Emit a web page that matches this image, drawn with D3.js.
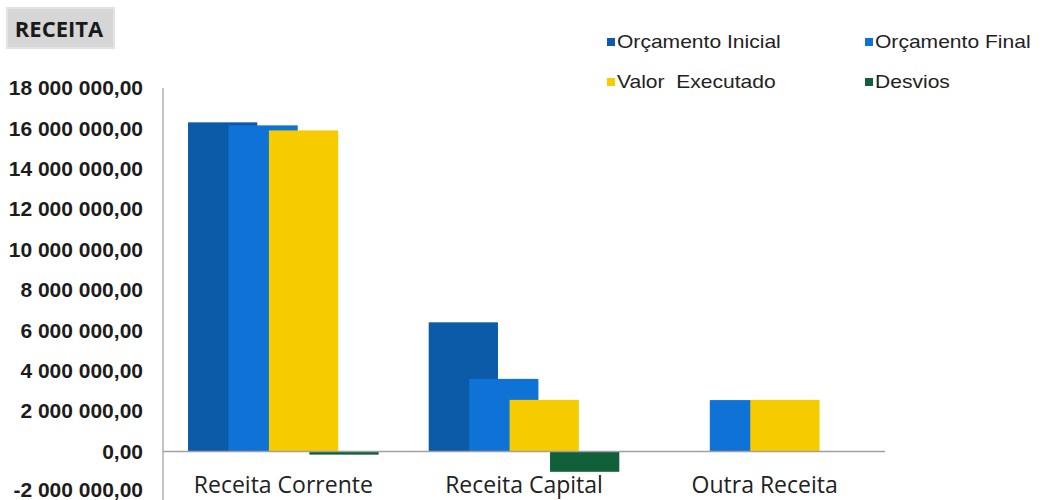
<!DOCTYPE html>
<html lang="pt">
<head>
<meta charset="UTF-8">
<title>Receita</title>
<script src="https://d3js.org/d3.v7.min.js"></script>
<style>
  body { margin: 0; background: #ffffff; }
  svg { display: block; }
</style>
</head>
<body>
<div id="chart"></div>
<script>
// dados
const categorias = ["Receita Corrente", "Receita Capital", "Outra Receita"];
const series = ["Orçamento Inicial", "Orçamento Final", "Valor  Executado", "Desvios"];
const orcamentoInicial = [16300000, 6400000, 0];
const orcamentoFinal = [16150000, 3600000, 2550000];
const valorExecutado = [15900000, 2560000, 2560000];
const desvios = [-150000, -1000000, 0];
const yTicks = [-2000000, 0, 2000000, 4000000, 6000000, 8000000, 10000000, 12000000, 14000000, 16000000, 18000000];

const valores = [orcamentoInicial, orcamentoFinal, valorExecutado, desvios];
const cores = ["#0b5ba9", "#0f72d6", "#f6cc00", "#10603a"];

const width = 1044, height = 500;
const svg = d3.select("#chart").append("svg")
    .attr("width", width)
    .attr("height", height);

const x = d3.scaleBand()
    .domain(categorias)
    .range([163, 885])
    .paddingInner(0.208)
    .paddingOuter(0.104);

const y = d3.scaleLinear()
    .domain([-2000000, 18000000])
    .range([492, 88]);

// barras sobrepostas (overlap tipo Excel)
const overlap = 0.416;
const barW = x.bandwidth() / (1 + 3 * (1 - overlap));
const passo = barW * (1 - overlap);

// formato "18 000 000,00"
function fmt(v) {
    const s = d3.format(",.2f")(v);
    return s.replace(/,/g, " ").replace(".", ",").replace("−", "-");
}

// eixo y (linha)
svg.append("line")
    .attr("x1", 163).attr("x2", 163)
    .attr("y1", y(18000000)).attr("y2", 500)
    .attr("stroke", "#b0b0b0").attr("stroke-width", 1.5);

svg.selectAll("text.ytick")
    .data(yTicks)
    .enter().append("text")
    .attr("class", "ytick")
    .attr("x", 143)
    .attr("y", d => y(d))
    .attr("dy", d => d < 0 ? "0.26em" : "0.34em")
    .attr("text-anchor", "end")
    .style("font-family", "'Liberation Sans', Arial, sans-serif")
    .style("font-weight", "bold")
    .style("font-size", "21px")
    .attr("fill", "#1c1c1c")
    .text(d => fmt(d));

// barras
series.forEach((s, i) => {
    svg.selectAll("rect.s" + i)
        .data(categorias.map((c, j) => ({ cat: c, v: valores[i][j] })))
        .enter().append("rect")
        .attr("class", "s" + i)
        .attr("x", d => x(d.cat) + i * passo)
        .attr("width", barW)
        .attr("y", d => y(Math.max(0, d.v)))
        .attr("height", d => Math.abs(y(d.v) - y(0)))
        .attr("fill", cores[i]);
});

// eixo x
svg.append("line")
    .attr("x1", 163).attr("x2", 885)
    .attr("y1", y(0)).attr("y2", y(0))
    .attr("stroke", "#a0a0a0").attr("stroke-width", 1.5);

svg.selectAll("text.cat")
    .data(categorias)
    .enter().append("text")
    .attr("class", "cat")
    .attr("x", d => x(d) + x.bandwidth() / 2)
    .attr("y", 493)
    .attr("text-anchor", "middle")
    .style("font-family", "'Open Sans', sans-serif")
    .style("font-size", "23px")
    .attr("fill", "#222")
    .text(d => d);

// título
svg.append("rect")
    .attr("x", 7).attr("y", 8)
    .attr("width", 107).attr("height", 40)
    .attr("fill", "#d6d6d6")
    .attr("stroke", "#e4e4e4").attr("stroke-width", 2);
svg.append("text")
    .attr("x", 59).attr("y", 37)
    .attr("text-anchor", "middle")
    .style("font-family", "'Open Sans', sans-serif")
    .style("font-weight", "bold")
    .style("font-size", "22px")
    .attr("fill", "#1a1a1a")
    .text("RECEITA");

// legenda
const legPos = [[607, 48], [865, 48], [607, 88], [865, 88]];
const leg = svg.selectAll("g.leg")
    .data(series)
    .enter().append("g")
    .attr("class", "leg")
    .attr("transform", (d, i) => `translate(${legPos[i][0]},${legPos[i][1]})`);
leg.append("rect")
    .attr("x", 0).attr("y", -10)
    .attr("width", 8).attr("height", 8)
    .attr("fill", (d, i) => cores[i]);
leg.append("text")
    .attr("transform", "translate(10,0) scale(1.17,1)")
    .style("font-family", "'Liberation Sans', Arial, sans-serif")
    .style("font-size", "18px")
    .style("white-space", "pre")
    .attr("fill", "#222")
    .text(d => d);
</script>
</body>
</html>
